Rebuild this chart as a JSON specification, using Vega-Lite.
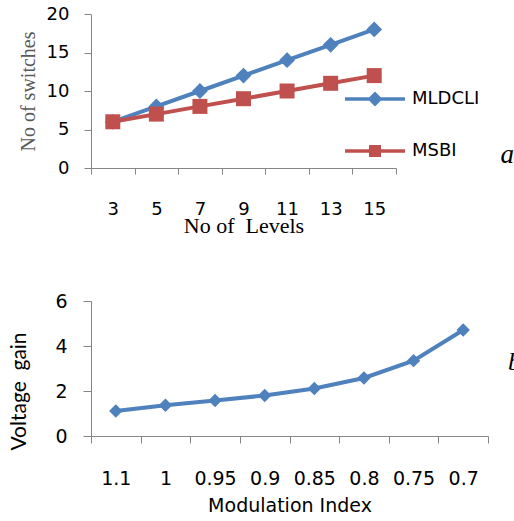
{
  "$schema": "https://vega.github.io/schema/vega-lite/v6.json",
  "padding": {"left": 8, "top": 5, "right": 0, "bottom": 0},
  "autosize": {"type": "pad"},
  "spacing": 56,
  "config": {
    "view": {"stroke": null},
    "axis": {"domainColor": "#868686", "tickColor": "#868686", "grid": false, "labelColor": "black", "titleColor": "black", "domainWidth": 1, "tickWidth": 1, "labelFont": "DejaVu Sans", "titleFontWeight": "normal"}
  },
  "vconcat": [
    {
      "width": 305,
      "height": 154,
      "data": {"values": [
        {"series": "MLDCLI", "level": "3", "switches": 6},
        {"series": "MLDCLI", "level": "5", "switches": 8},
        {"series": "MLDCLI", "level": "7", "switches": 10},
        {"series": "MLDCLI", "level": "9", "switches": 12},
        {"series": "MLDCLI", "level": "11", "switches": 14},
        {"series": "MLDCLI", "level": "13", "switches": 16},
        {"series": "MLDCLI", "level": "15", "switches": 18},
        {"series": "MSBI", "level": "3", "switches": 6},
        {"series": "MSBI", "level": "5", "switches": 7},
        {"series": "MSBI", "level": "7", "switches": 8},
        {"series": "MSBI", "level": "9", "switches": 9},
        {"series": "MSBI", "level": "11", "switches": 10},
        {"series": "MSBI", "level": "13", "switches": 11},
        {"series": "MSBI", "level": "15", "switches": 12}
      ]},
      "title": {"text": "a", "orient": "right", "angle": 0, "anchor": "end", "baseline": "alphabetic", "dy": -73, "font": "Liberation Serif", "fontStyle": "italic", "fontWeight": "normal", "fontSize": 27, "color": "black", "offset": 104},
      "encoding": {
        "x": {"field": "level", "type": "ordinal", "sort": null,
          "scale": {"type": "band", "paddingInner": 0, "paddingOuter": 0},
          "axis": {"title": "No of\u00a0 Levels", "labelAngle": 0, "tickBand": "extent", "tickSize": 6, "labelPadding": 26, "labelFontSize": 18, "titleFont": "Liberation Serif", "titleFontSize": 22, "titlePadding": -3}},
        "y": {"field": "switches", "type": "quantitative",
          "scale": {"domain": [0, 20]},
          "axis": {"title": "No of switches", "values": [0, 5, 10, 15, 20], "tickSize": 7, "labelPadding": 15, "labelFontSize": 18, "titleFont": "Liberation Serif", "titleFontSize": 20, "titleColor": "#595959", "titlePadding": 8}},
        "color": {"field": "series", "type": "nominal",
          "scale": {"domain": ["MLDCLI", "MSBI"], "range": ["#4F81BD", "#C0504D"]},
          "legend": {"orient": "none", "legendX": 257, "legendY": 58, "title": null, "direction": "vertical", "rowPadding": 13, "symbolSize": 2500, "symbolStrokeWidth": 3.5, "labelFont": "DejaVu Sans", "labelFontSize": 18, "labelColor": "black", "labelOffset": 10,
            "encode": {"symbols": {"update": {
              "shape": {"signal": "datum.value === 'MLDCLI' ? 'M-1.2,0H1.2M0,-0.2L0.2,0L0,0.2L-0.2,0Z' : 'M-1.2,0H1.2M-0.17,-0.17H0.17V0.17H-0.17Z'"},
              "fill": {"signal": "datum.value === 'MLDCLI' ? '#4F81BD' : '#C0504D'"},
              "stroke": {"signal": "datum.value === 'MLDCLI' ? '#4F81BD' : '#C0504D'"},
              "strokeWidth": {"value": 3.5},
              "size": {"value": 2500},
              "opacity": {"value": 1}
            }}}}}
      },
      "layer": [
        {"mark": {"type": "line", "strokeWidth": 4}},
        {"transform": [{"filter": "datum.series === 'MLDCLI'"}],
         "mark": {"type": "point", "filled": true, "opacity": 1, "size": 250, "shape": "diamond"}},
        {"transform": [{"filter": "datum.series === 'MSBI'"}],
         "mark": {"type": "point", "filled": true, "opacity": 1, "size": 225, "shape": "square"}}
      ]
    },
    {
      "width": 397,
      "height": 135,
      "data": {"values": [
        {"index": "1.1", "gain": 1.11},
        {"index": "1", "gain": 1.37},
        {"index": "0.95", "gain": 1.58},
        {"index": "0.9", "gain": 1.8},
        {"index": "0.85", "gain": 2.11},
        {"index": "0.8", "gain": 2.58},
        {"index": "0.75", "gain": 3.35},
        {"index": "0.7", "gain": 4.71}
      ]},
      "title": {"text": "b", "orient": "right", "angle": 0, "anchor": "middle", "dy": -20, "font": "Liberation Serif", "fontStyle": "italic", "fontWeight": "normal", "fontSize": 26, "color": "black", "offset": 13},
      "encoding": {
        "x": {"field": "index", "type": "ordinal", "sort": null,
          "scale": {"type": "band", "paddingInner": 0, "paddingOuter": 0},
          "axis": {"title": "Modulation Index", "labelAngle": 0, "tickBand": "extent", "tickSize": 7, "labelPadding": 26, "labelFontSize": 19, "titleFont": "DejaVu Sans", "titleFontSize": 19, "titlePadding": 8}},
        "y": {"field": "gain", "type": "quantitative",
          "scale": {"domain": [0, 6]},
          "axis": {"title": "Voltage\u00a0 gain", "values": [0, 2, 4, 6], "tickSize": 8, "labelPadding": 16, "labelFontSize": 19, "titleFont": "Lato", "titleFontSize": 21, "titlePadding": 25, "titleY": 90}}
      },
      "layer": [
        {"mark": {"type": "line", "strokeWidth": 4, "color": "#4F81BD"}},
        {"mark": {"type": "point", "filled": true, "opacity": 1, "size": 180, "shape": "diamond", "color": "#4F81BD"}}
      ]
    }
  ]
}
